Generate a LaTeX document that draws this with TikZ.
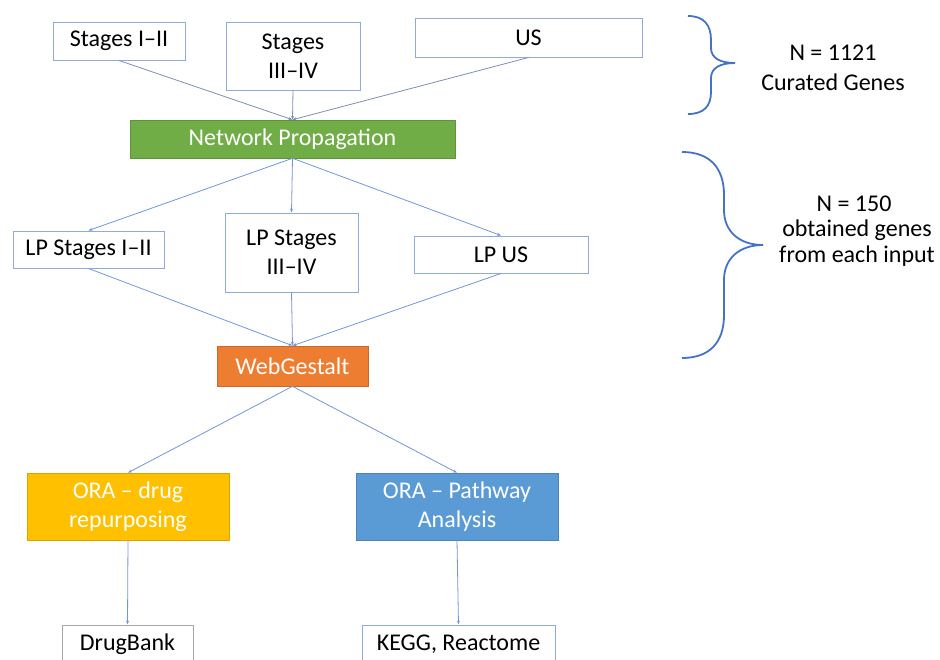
\documentclass[tikz,border=0pt]{standalone}
\usepackage{fontspec}
\setmainfont{Carlito}
\usetikzlibrary{arrows.meta}
\definecolor{boxline}{HTML}{8FAADC}
\definecolor{conn}{HTML}{7396D8}
\definecolor{conntop}{HTML}{7F8DB0}
\definecolor{npgreen}{HTML}{70AD47}
\definecolor{wgorange}{HTML}{ED7D31}
\definecolor{orayellow}{HTML}{FFC000}
\definecolor{orablue}{HTML}{5B9BD5}
\definecolor{bracecol}{HTML}{4472C4}
\tikzset{
  every node/.style={font=\fontsize{24}{29}\selectfont, inner sep=0pt, align=center},
  wbox/.style={draw=boxline, line width=1pt, fill=white, text=black},
  cbox/.style={draw=#1!85!black, line width=0.6pt, fill=#1, text=white},
  link/.style={draw=conn, line width=0.8pt, -{Stealth[length=4pt,width=3pt]}},
  linktop/.style={draw=conntop, line width=0.8pt, -{Stealth[length=4pt,width=3pt]}},
  bracestyle/.style={draw=bracecol, line width=1.8pt},
}
\begin{document}
\begin{tikzpicture}[x=1pt,y=-1pt]
\useasboundingbox (0,0) rectangle (940,659);
% top inputs
\node[wbox, minimum width=132pt, minimum height=38pt] (s12) at (119,41) {Stages I–II};
\node[wbox, minimum width=134pt, minimum height=68pt] (s34) at (293,56) {Stages\\III–IV};
\node[wbox, minimum width=227pt, minimum height=39pt] (us) at (528.5,37.5) {US};
\node[cbox=npgreen, minimum width=325pt, minimum height=38pt] (np) at (292.5,139) {Network Propagation};
% LP
\node[wbox, minimum width=151pt, minimum height=37pt] (lp12) at (88.5,249.5) {LP Stages I–II};
\node[wbox, minimum width=133pt, minimum height=79pt] (lp34) at (291.5,252.5) {LP Stages\\III–IV};
\node[wbox, minimum width=174pt, minimum height=37pt] (lpus) at (501,254.5) {LP US};
\node[cbox=wgorange, minimum width=151pt, minimum height=40pt] (wg) at (292.5,366) {WebGestalt};
% ORA
\node[cbox=orayellow, minimum width=202pt, minimum height=67pt] (orad) at (128,506.5) {ORA – drug\\repurposing};
\node[cbox=orablue, minimum width=202pt, minimum height=67pt] (orap) at (457,506.5) {ORA – Pathway\\Analysis};
% bottom
\node[draw=black!35, line width=1pt, fill=white, minimum width=131pt, minimum height=38pt] (db) at (127.5,644) {DrugBank};
\node[wbox, minimum width=193pt, minimum height=38pt] (kegg) at (458.5,644) {KEGG, Reactome};
% connectors
\path[linktop] (s12.south) -- (np.north);
\path[linktop] (s34.south) -- (np.north);
\path[linktop] (us.south) -- (np.north);
\path[link] (np.south) -- (lp12.north);
\path[link] (np.south) -- (lp34.north);
\path[link] (np.south) -- (lpus.north);
\path[link] (lp12.south) -- (wg.north);
\path[link] (lp34.south) -- (wg.north);
\path[link] (lpus.south) -- (wg.north);
\path[link] (wg.south) -- (orad.north);
\path[link] (wg.south) -- (orap.north);
\path[link] (orad.south) -- (db.north);
\path[link] (orap.south) -- (kegg.north);
% braces
\draw[bracestyle] (688,16) .. controls (704,16) and (711,25) .. (711,40)
  -- (711,48) .. controls (711,58) and (720,63) .. (735,63)
  .. controls (720,63) and (711,68) .. (711,78)
  -- (711,92) .. controls (711,106) and (704,114) .. (688,114);
\draw[bracestyle] (682,152) .. controls (710,152) and (724,168) .. (724,195)
  -- (724,210) .. controls (724,232) and (740,245) .. (763,245)
  .. controls (740,245) and (724,258) .. (724,280)
  -- (724,315) .. controls (724,342) and (710,358) .. (682,358);
\node (n1) at (833,53) {N = 1121};
\node (cg) at (833,82) {Curated Genes};
\node (n2) at (854,204) {N = 150};
\node (og) at (857,230) {obtained genes};
\node (fe) at (857,256) {from each input};
\end{tikzpicture}
\end{document}
